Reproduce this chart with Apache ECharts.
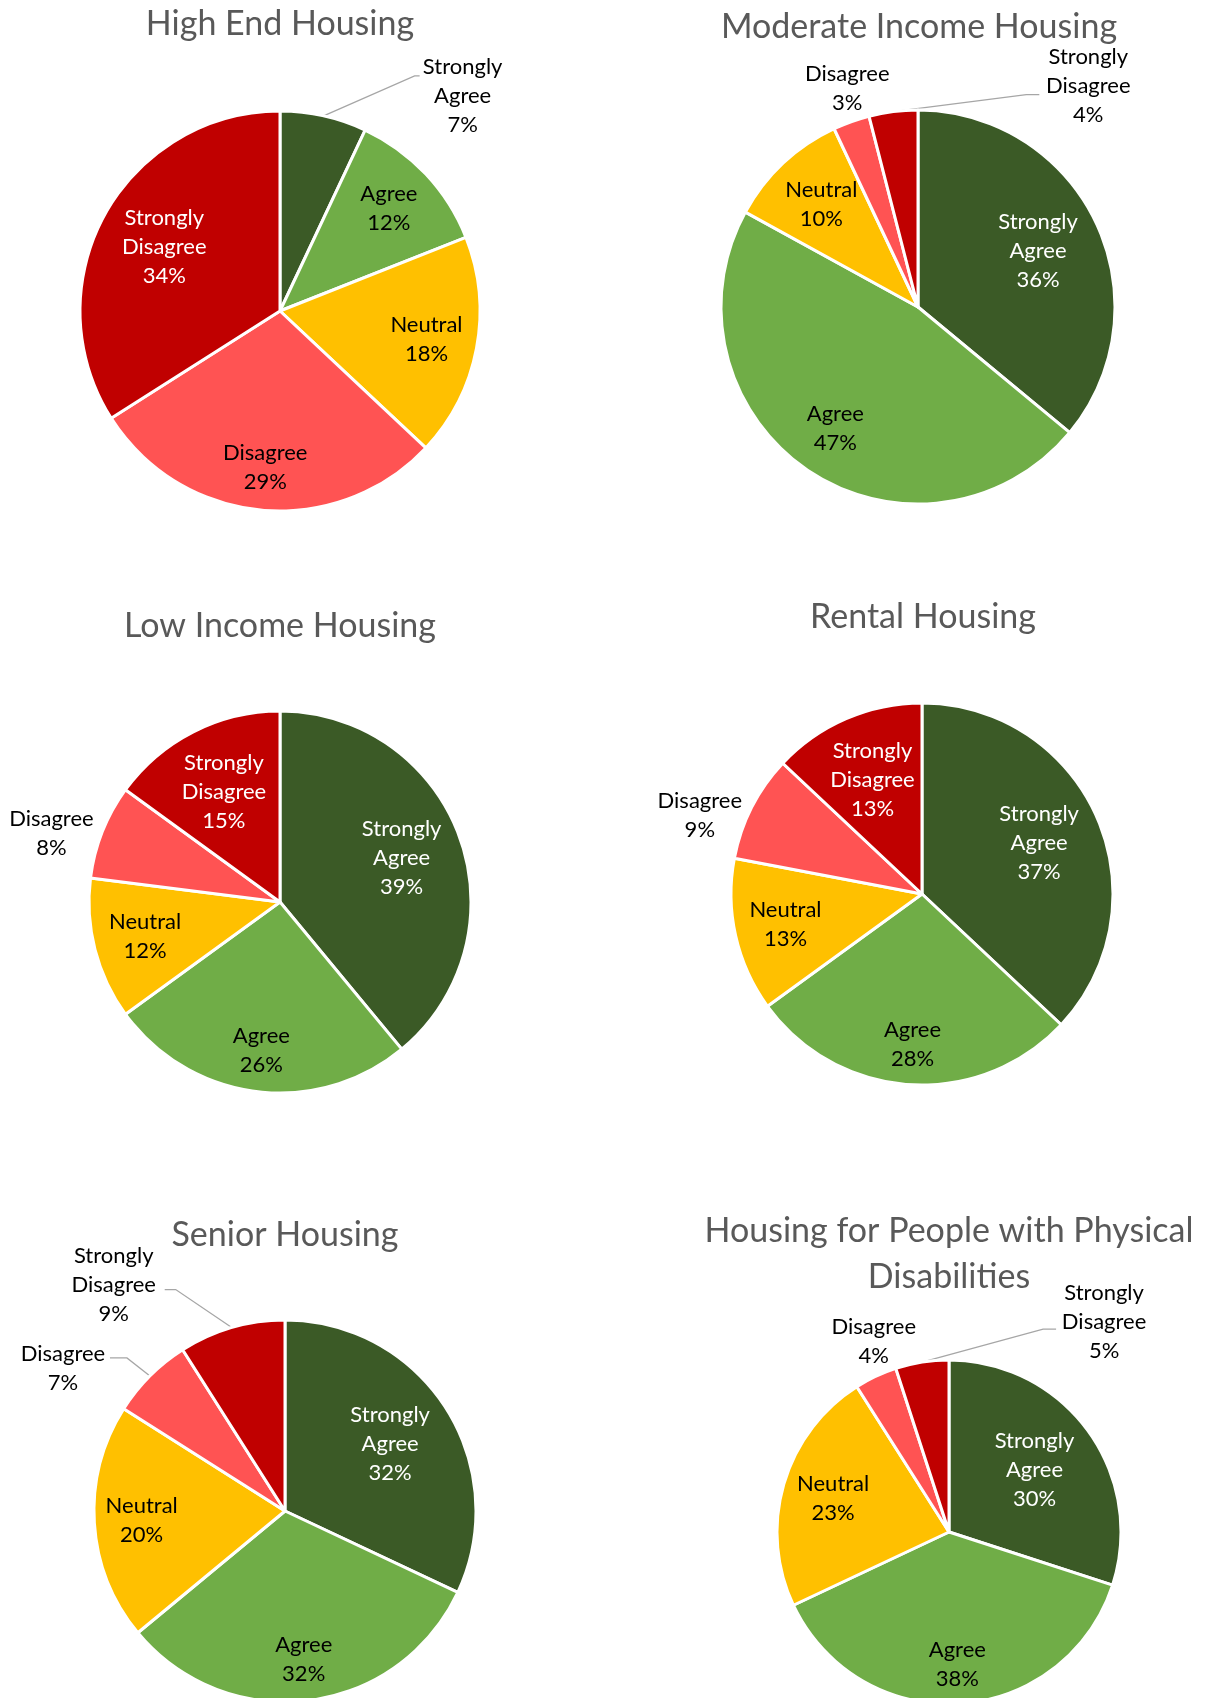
<!DOCTYPE html>
<html>
<head>
<meta charset="utf-8">
<script src="https://cdn.jsdelivr.net/npm/echarts@6/dist/echarts.min.js"></script>
<style>
  html, body { margin: 0; padding: 0; background: #ffffff; }
  #chart { width: 1207px; height: 1698px; }
</style>
</head>
<body>
<div id="chart"></div>
<script>
// Survey answers, shares in percent, ordered as the categories
const categories = ['Strongly Agree', 'Agree', 'Neutral', 'Disagree', 'Strongly Disagree'];
const titles = [
  'High End Housing',
  'Moderate Income Housing',
  'Low Income Housing',
  'Rental Housing',
  'Senior Housing',
  'Housing for People with Physical\nDisabilities'
];
const highEnd = [7, 12, 18, 29, 34];
const moderateIncome = [36, 47, 10, 3, 4];
const lowIncome = [39, 26, 12, 8, 15];
const rental = [37, 28, 13, 9, 13];
const senior = [32, 32, 20, 7, 9];
const physicalDisabilities = [30, 38, 23, 4, 5];

// Styling
const palette = ['#3b5a26', '#70ad47', '#ffc000', '#ff5353', '#c00000'];
const innerInk = ['#ffffff', '#000000', '#000000', '#000000', '#ffffff'];
const FONT = 'Lato, "Noto Sans", sans-serif';
const LABEL_SIZE = 22;
const LABEL_LINE_H = 29;
const INNER_END = 0.95; // in-slice labels keep their box inside this share of the radius

// Panel layout. "outer" lists the slices whose labels sit outside the pie:
// label centre and leader-line bends are offsets from the slice's rim point.
const panels = [
  { values: highEnd, title: titles[0], cx: 280, cy: 311, r: 200, tx: 280, ty: 24,
    outer: { 0: { label: [139, -20], line: [[91, -40], [96, -40]] } } },
  { values: moderateIncome, title: titles[1], cx: 918, cy: 307, r: 197, tx: 919, ty: 27,
    outer: { 3: { label: [-4, -33] },
             4: { label: [195, -26], line: [[133, -17], [146, -17]] } } },
  { values: lowIncome, title: titles[2], cx: 280, cy: 902, r: 191, tx: 280, ty: 626,
    outer: { 3: { label: [-51, 2] } } },
  { values: rental, title: titles[3], cx: 922, cy: 894, r: 191, tx: 923, ty: 617,
    outer: { 3: { label: [-52, 8] } } },
  { values: senior, title: titles[4], cx: 285, cy: 1511, r: 191, tx: 285, ty: 1235,
    outer: { 3: { label: [-87, -8], line: [[-23, -18], [-40, -18]] },
             4: { label: [-118, -43], line: [[-56, -38], [-67, -38]] } } },
  { values: physicalDisabilities, title: titles[5], cx: 949, cy: 1532, r: 172, tx: 949, ty: 1254,
    outer: { 3: { label: [-2, -35] },
             4: { label: [182, -40], line: [[121, -33], [134, -33]] } } }
];

const labelText = p => p.name.replace(' ', '\n') + '\n' + p.value + '%';

const series = [];
const titleList = [];

panels.forEach(panel => {
  titleList.push({
    text: panel.title,
    left: panel.tx,
    top: panel.ty,
    textAlign: 'center',
    textVerticalAlign: 'middle',
    padding: 0,
    textStyle: {
      fontFamily: FONT,
      fontWeight: 'normal',
      fontSize: 34,
      lineHeight: 46,
      color: '#595959'
    }
  });

  // Filled pie, carrying the outside labels and leader lines
  series.push({
    type: 'pie',
    center: [panel.cx, panel.cy],
    radius: panel.r,
    startAngle: 90,
    clockwise: true,
    silent: true,
    avoidLabelOverlap: false,
    itemStyle: { borderColor: '#ffffff', borderWidth: 3 },
    label: {
      show: true,
      position: 'outside',
      formatter: labelText,
      fontFamily: FONT,
      fontSize: LABEL_SIZE,
      lineHeight: LABEL_LINE_H,
      color: '#000000'
    },
    labelLine: { show: true, lineStyle: { color: '#a6a6a6', width: 1.3 } },
    labelLayout: params => {
      const spot = panel.outer[params.dataIndex];
      const pts = params.labelLinePoints;
      if (!spot || !pts) return {};
      const ex = pts[0][0], ey = pts[0][1];
      const out = {
        x: ex + spot.label[0],
        y: ey + spot.label[1],
        align: 'center',
        verticalAlign: 'middle'
      };
      out.labelLinePoints = spot.line
        ? [[ex, ey], [ex + spot.line[0][0], ey + spot.line[0][1]], [ex + spot.line[1][0], ey + spot.line[1][1]]]
        : [[ex, ey], [ex, ey], [ex, ey]];
      return out;
    },
    data: panel.values.map((v, i) => {
      const spot = panel.outer[i];
      return {
        name: categories[i],
        value: v,
        itemStyle: { color: palette[i] },
        label: { show: !!spot },
        labelLine: { show: !!spot, lineStyle: { opacity: spot && spot.line ? 1 : 0 } }
      };
    })
  });

  // Transparent ring over the pie that carries the in-slice labels;
  // each label is slid along its slice's mid line until its box meets the inner end.
  series.push({
    type: 'pie',
    center: [panel.cx, panel.cy],
    radius: [panel.r * 0.44, panel.r],
    startAngle: 90,
    clockwise: true,
    silent: true,
    avoidLabelOverlap: false,
    itemStyle: { color: 'rgba(0,0,0,0)', borderWidth: 0 },
    label: {
      show: true,
      position: 'inside',
      formatter: labelText,
      fontFamily: FONT,
      fontSize: LABEL_SIZE,
      lineHeight: LABEL_LINE_H
    },
    labelLine: { show: false },
    labelLayout: params => {
      const rc = params.labelRect;
      const mx = rc.x + rc.width / 2 - panel.cx;
      const my = rc.y + rc.height / 2 - panel.cy;
      const d = Math.hypot(mx, my) || 1;
      const ux = mx / d, uy = my / d;
      const reach = Math.abs(ux) * rc.width / 2 + Math.abs(uy) * rc.height / 2;
      const dist = panel.r * INNER_END - reach;
      return {
        x: panel.cx + ux * dist,
        y: panel.cy + uy * dist,
        align: 'center',
        verticalAlign: 'middle'
      };
    },
    data: panel.values.map((v, i) => ({
      name: categories[i],
      value: v,
      label: { show: !panel.outer[i], color: innerInk[i] }
    }))
  });
});

const chart = echarts.init(document.getElementById('chart'), null, { renderer: 'canvas' });
chart.setOption({
  backgroundColor: '#ffffff',
  animation: false,
  title: titleList,
  series: series
});
</script>
</body>
</html>
